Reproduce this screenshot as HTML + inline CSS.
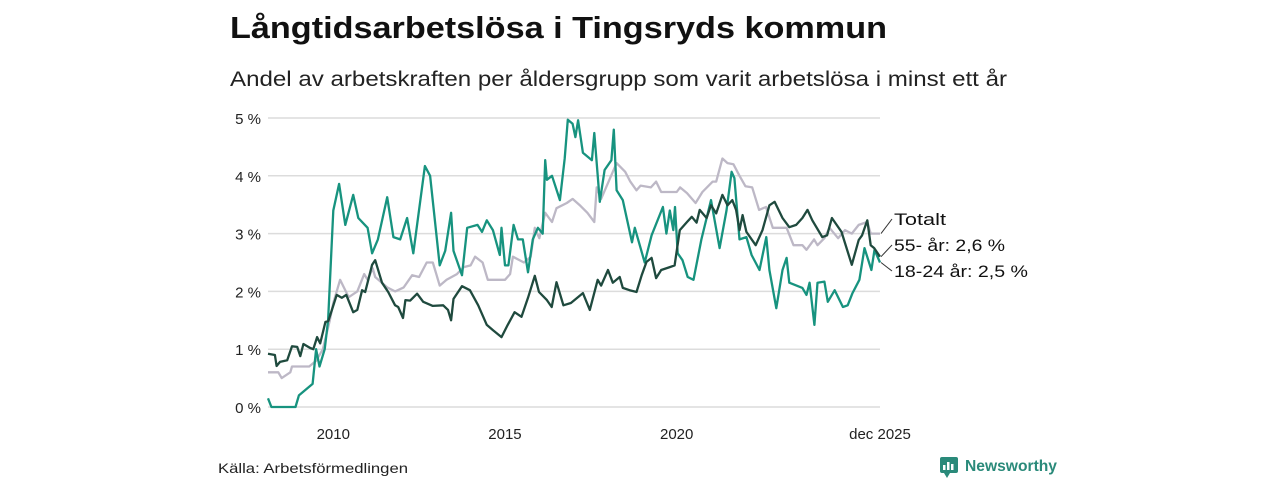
<!DOCTYPE html>
<html><head><meta charset="utf-8">
<style>
body{margin:0;background:#fff;width:1280px;height:480px;overflow:hidden;font-family:"Liberation Sans",sans-serif;}
</style></head>
<body>
<svg id="chart" width="1280" height="480" xmlns="http://www.w3.org/2000/svg">
<text x="230" y="38" font-size="31" font-weight="bold" fill="#111" textLength="657" lengthAdjust="spacingAndGlyphs">Långtidsarbetslösa i Tingsryds kommun</text>
<text x="230" y="86" font-size="21" fill="#222" textLength="777" lengthAdjust="spacingAndGlyphs">Andel av arbetskraften per åldersgrupp som varit arbetslösa i minst ett år</text>
<g id="grid"></g>
<g id="series"></g>
<g id="labels"></g>
<text x="218" y="473" font-size="14" fill="#222" textLength="190" lengthAdjust="spacingAndGlyphs">Källa: Arbetsförmedlingen</text>
<g>
<rect x="940" y="457" width="18" height="16" rx="2" fill="#2a8a7a"/>
<path d="M944 473 L947 478 L950 473Z" fill="#2a8a7a"/>
<rect x="943" y="465" width="2.5" height="5" fill="#fff"/>
<rect x="947" y="462" width="2.5" height="8" fill="#fff"/>
<rect x="951" y="464" width="2.5" height="6" fill="#fff"/>
<text x="965" y="471" font-size="16" font-weight="bold" fill="#2a8a7a" textLength="92" lengthAdjust="spacingAndGlyphs">Newsworthy</text>
</g>
</svg>
<script>
const yTicks=[0,1,2,3,4,5];
const yTickLabels=["0 %","1 %","2 %","3 %","4 %","5 %"];
const xTicks=[2010,2015,2020,2025.92];
const xTickLabels=["2010","2015","2020","dec 2025"];
const totalDates=[2008.1,2008.4,2008.5,2008.75,2008.8,2009.3,2009.5,2009.7,2009.9,2010.0,2010.1,2010.2,2010.45,2010.7,2010.9,2011.0,2011.15,2011.22,2011.57,2011.8,2012.05,2012.3,2012.5,2012.72,2012.9,2013.0,2013.1,2013.3,2013.6,2013.8,2014.0,2014.13,2014.35,2014.5,2015.0,2015.15,2015.23,2015.55,2015.75,2015.87,2016.0,2016.17,2016.37,2016.5,2016.8,2016.97,2017.2,2017.4,2017.6,2017.67,2017.8,2018.25,2018.5,2018.65,2018.83,2018.95,2019.25,2019.4,2019.55,2020.0,2020.1,2020.3,2020.55,2020.75,2021.05,2021.15,2021.33,2021.48,2021.65,2021.83,2022.0,2022.2,2022.4,2022.6,2022.8,2023.2,2023.4,2023.66,2023.78,2024.0,2024.1,2024.3,2024.45,2024.7,2024.9,2025.1,2025.3,2025.55,2025.65,2025.92];
const totalValues=[0.6,0.6,0.5,0.6,0.7,0.7,0.8,1.0,1.5,1.8,2.0,2.2,1.9,2.0,2.3,2.2,2.4,2.25,2.07,2.0,2.07,2.28,2.25,2.5,2.5,2.3,2.1,2.2,2.3,2.42,2.45,2.6,2.5,2.2,2.2,2.3,2.6,2.5,2.6,3.1,2.92,3.36,3.2,3.44,3.53,3.6,3.48,3.36,3.2,3.8,3.6,4.22,4.07,3.9,3.75,3.83,3.8,3.9,3.72,3.72,3.8,3.7,3.53,3.72,3.9,3.9,4.3,4.22,4.2,4.0,3.82,3.8,3.41,3.46,3.1,3.1,2.8,2.8,2.72,2.9,2.8,2.92,3.1,2.92,3.06,3.0,3.15,3.2,3.0,3.0];
const olderDates=[2008.1,2008.3,2008.35,2008.45,2008.66,2008.8,2008.95,2009.04,2009.13,2009.33,2009.42,2009.53,2009.62,2009.77,2009.86,2010.1,2010.25,2010.38,2010.58,2010.7,2010.84,2010.93,2011.13,2011.22,2011.42,2011.6,2011.8,2011.89,2012.03,2012.1,2012.24,2012.44,2012.62,2012.9,2013.2,2013.34,2013.43,2013.5,2013.75,2013.98,2014.22,2014.47,2014.65,2014.9,2015.08,2015.28,2015.48,2015.67,2015.87,2015.99,2016.22,2016.36,2016.5,2016.7,2016.92,2017.27,2017.47,2017.7,2017.8,2018.0,2018.14,2018.34,2018.43,2018.63,2018.83,2018.98,2019.12,2019.27,2019.4,2019.55,2019.8,2019.94,2020.09,2020.3,2020.44,2020.58,2020.67,2020.87,2021.0,2021.15,2021.33,2021.48,2021.62,2021.73,2021.83,2021.92,2022.03,2022.3,2022.5,2022.7,2022.85,2023.08,2023.28,2023.48,2023.66,2023.81,2023.95,2024.24,2024.38,2024.52,2024.8,2025.1,2025.3,2025.4,2025.55,2025.65,2025.75,2025.92];
const olderValues=[0.92,0.9,0.71,0.78,0.81,1.05,1.04,0.88,1.09,1.02,1.0,1.21,1.1,1.47,1.49,1.94,1.89,1.94,1.64,1.68,2.02,1.99,2.46,2.54,2.15,1.99,1.76,1.73,1.54,1.85,1.84,1.96,1.82,1.75,1.76,1.68,1.5,1.87,2.09,2.02,1.76,1.42,1.33,1.21,1.42,1.64,1.56,1.89,2.27,1.99,1.85,1.73,2.16,1.76,1.8,1.97,1.68,2.2,2.1,2.37,2.15,2.25,2.06,2.02,1.99,2.28,2.51,2.58,2.23,2.37,2.42,2.45,3.06,3.2,3.29,3.19,3.41,3.27,3.49,3.35,3.67,3.49,3.58,3.41,3.06,3.32,3.03,2.8,3.06,3.49,3.55,3.27,3.11,3.15,3.27,3.41,3.23,2.94,2.97,3.27,3.03,2.46,2.89,2.97,3.23,2.8,2.75,2.6];
const youthDates=[2008.1,2008.2,2008.9,2009.0,2009.4,2009.5,2009.6,2009.75,2009.85,2010.0,2010.17,2010.35,2010.58,2010.73,2011.0,2011.13,2011.3,2011.57,2011.75,2011.95,2012.15,2012.33,2012.67,2012.82,2013.1,2013.26,2013.43,2013.5,2013.75,2013.9,2014.2,2014.33,2014.47,2014.65,2014.85,2014.9,2015.0,2015.1,2015.25,2015.38,2015.52,2015.67,2015.81,2015.96,2016.1,2016.17,2016.22,2016.37,2016.6,2016.74,2016.83,2016.97,2017.05,2017.13,2017.27,2017.53,2017.6,2017.76,2017.9,2018.1,2018.17,2018.25,2018.43,2018.7,2018.78,2019.07,2019.27,2019.6,2019.7,2019.8,2019.9,2019.95,2020.03,2020.17,2020.32,2020.49,2020.72,2021.0,2021.25,2021.45,2021.6,2021.68,2021.83,2022.03,2022.18,2022.41,2022.61,2022.7,2022.9,2023.08,2023.2,2023.28,2023.66,2023.78,2023.87,2024.01,2024.1,2024.3,2024.4,2024.6,2024.84,2024.98,2025.12,2025.32,2025.47,2025.67,2025.76,2025.92];
const youthValues=[0.15,0,0,0.2,0.4,1.0,0.7,1.0,1.5,3.4,3.86,3.15,3.67,3.27,3.1,2.66,2.9,3.63,2.94,2.9,3.27,2.66,4.17,4.0,2.45,2.7,3.36,2.7,2.28,3.1,3.15,3.03,3.23,3.06,2.63,3.1,2.45,2.45,3.15,2.9,2.9,2.33,2.9,3.1,3.0,4.27,3.93,4.0,3.58,4.3,4.97,4.9,4.67,4.96,4.4,4.27,4.74,3.55,4.1,4.27,4.8,3.75,3.58,2.85,3.1,2.5,2.97,3.46,3.0,3.4,3.06,3.46,2.66,2.54,2.25,2.2,2.9,3.58,2.75,3.4,4.07,3.96,2.9,2.94,2.63,2.37,2.94,2.37,1.71,2.37,2.58,2.15,2.06,1.94,2.15,1.42,2.15,2.17,1.82,2.02,1.73,1.76,1.97,2.2,2.75,2.37,2.72,2.5];
const NS="http://www.w3.org/2000/svg";
const X0=268,X1=880,T0=2008.1,T1=2025.92,Y0=407,YPX=57.8;
function xs(t){return X0+(t-T0)/(T1-T0)*(X1-X0);}
function ys(v){return Y0-v*YPX;}
function mk(tag,attrs,parent){const e=document.createElementNS(NS,tag);for(const k in attrs)e.setAttribute(k,attrs[k]);parent.appendChild(e);return e;}
const grid=document.getElementById('grid');
yTicks.forEach((v,i)=>{
 const l=mk('line',{x1:X0,x2:X1,y1:ys(v),y2:ys(v),stroke:'#dcdcdc','stroke-width':1.5},grid);
 
 
 const t=mk('text',{x:261,y:ys(v)+6,'text-anchor':'end','font-size':15,fill:'#222'},grid);
 t.textContent=yTickLabels[i];
 
 
});
xTicks.forEach((v,i)=>{
 const t=mk('text',{x:xs(v),y:439,'text-anchor':'middle','font-size':15,fill:'#222'},grid);
 t.textContent=xTickLabels[i];
 
 
});
const ser=document.getElementById('series');
function line(d,v,c,name){
 const p=mk('path',{d:d.map((t,i)=>(i?'L':'M')+xs(t).toFixed(1)+' '+ys(v[i]).toFixed(1)).join(''),fill:'none',stroke:c,'stroke-width':2.3,'stroke-linejoin':'round'},ser);
 
 
}
line(totalDates,totalValues,'#bdb8c6','line-totalt');
line(youthDates,youthValues,'#17937f','line-18-24');
line(olderDates,olderValues,'#1f4a3e','line-55');
const lab=document.getElementById('labels');
const ends=[[totalValues[totalValues.length-1],'Totalt',225,52],[olderValues[olderValues.length-1],'55- år: 2,6 %',251,111],[youthValues[youthValues.length-1],'18-24 år: 2,5 %',277,134]];
ends.forEach(e=>{
 const l=mk('line',{x1:X1+1,y1:ys(e[0]),x2:892,y2:e[2]-6,stroke:'#333','stroke-width':1},lab);
 
 
 const t=mk('text',{x:894,y:e[2],'font-size':17,fill:'#111',textLength:e[3],lengthAdjust:'spacingAndGlyphs'},lab);
 t.textContent=e[1];
 
 
});
</script>
</body></html>
